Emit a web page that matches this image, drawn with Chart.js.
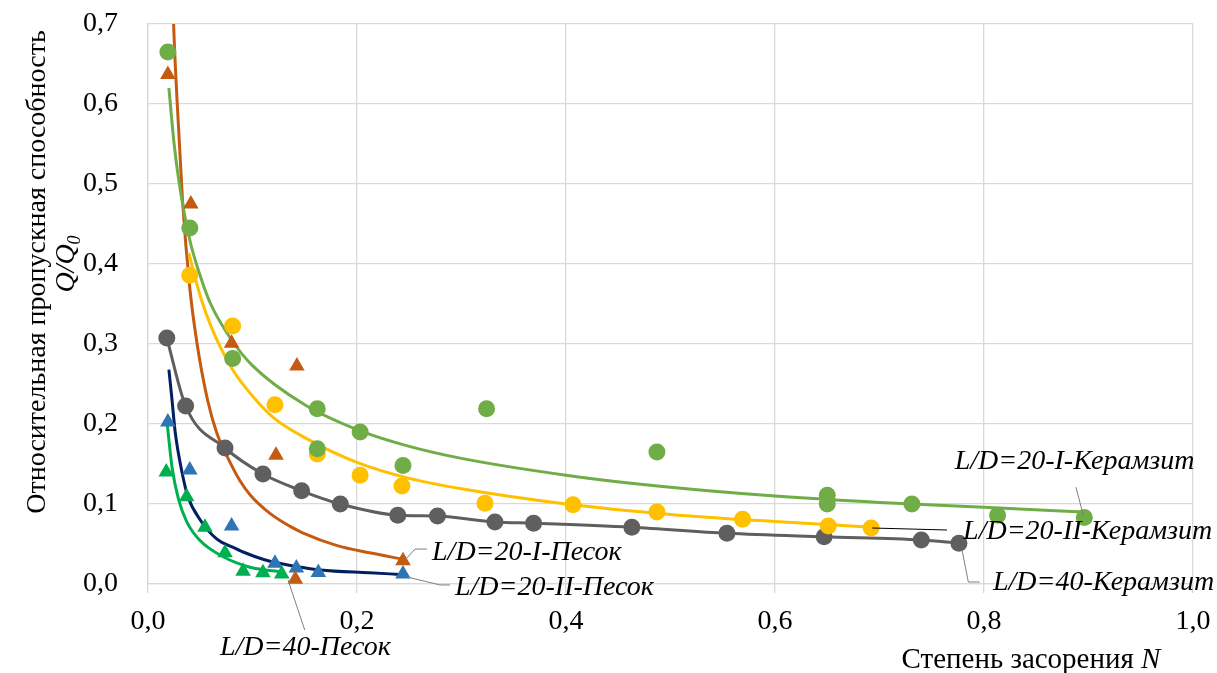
<!DOCTYPE html>
<html>
<head>
<meta charset="utf-8">
<script src="https://cdn.jsdelivr.net/npm/chart.js@4.4.1/dist/chart.umd.min.js"></script>
<style>
html,body{margin:0;padding:0;background:#fff;}
#wrap{width:1217px;height:673px;position:relative;}
</style>
</head>
<body>
<div id="wrap"><canvas id="c" width="1217" height="673"></canvas></div>
<script>
// ---------- DATA ----------
const xTickLabels = ['0,0','0,2','0,4','0,6','0,8','1,0'];
const yTickLabels = ['0,0','0,1','0,2','0,3','0,4','0,5','0,6','0,7'];

const seriesNames = ['L/D=20-I-Керамзит','L/D=20-II-Керамзит','L/D=40-Керамзит','L/D=20-I-Песок','L/D=20-II-Песок','L/D=40-Песок'];

// L/D=20-I-Керамзит (measured points)
const ker20I_x = [0.019,0.040,0.081,0.162,0.162,0.203,0.244,0.324,0.487,0.650,0.650,0.731,0.813,0.896];
const ker20I_y = [0.665,0.445,0.282,0.219,0.169,0.190,0.148,0.219,0.165,0.111,0.100,0.100,0.086,0.083];
// its trend curve
const ker20I_tx = [0.020,0.025,0.030,0.040,0.050,0.060,0.080,0.100,0.150,0.200,0.250,0.300,0.400,0.500,0.600,0.700,0.800,0.895];
const ker20I_ty = [0.620,0.550,0.500,0.430,0.385,0.350,0.305,0.273,0.224,0.193,0.172,0.157,0.136,0.121,0.110,0.102,0.096,0.090];

// L/D=20-II-Керамзит
const ker20II_x = [0.040,0.081,0.1215,0.162,0.203,0.243,0.3225,0.4067,0.487,0.569,0.651,0.692];
const ker20II_y = [0.386,0.3225,0.224,0.1625,0.136,0.1225,0.101,0.099,0.090,0.081,0.0725,0.070];
const ker20II_tx = [0.039,0.050,0.060,0.080,0.100,0.120,0.150,0.200,0.250,0.300,0.400,0.500,0.600,0.692];
const ker20II_ty = [0.414,0.360,0.323,0.270,0.235,0.208,0.183,0.152,0.132,0.119,0.100,0.087,0.078,0.071];

// L/D=40-Керамзит (smooth line through points)
const ker40_x = [0.018,0.036,0.0737,0.110,0.147,0.184,0.239,0.277,0.332,0.369,0.463,0.554,0.647,0.740,0.776];
const ker40_y = [0.3075,0.2225,0.170,0.1375,0.1165,0.100,0.086,0.085,0.0775,0.076,0.071,0.0635,0.059,0.055,0.051];

// L/D=20-I-Песок
const san20I_x = [0.019,0.041,0.080,0.1225,0.1425,0.141,0.244];
const san20I_y = [0.637,0.475,0.301,0.161,0.2725,0.006,0.029];
const san20I_tx = [0.020,0.0245,0.028,0.033,0.040,0.047,0.057,0.066,0.077,0.088,0.098,0.117,0.136,0.148,0.181,0.212,0.244];
const san20I_ty = [0.920,0.700,0.600,0.480,0.370,0.300,0.230,0.188,0.156,0.129,0.111,0.088,0.072,0.064,0.048,0.039,0.031];

// L/D=20-II-Песок
const san20II_x = [0.019,0.040,0.080,0.1215,0.142,0.163,0.244];
const san20II_y = [0.2025,0.1425,0.0725,0.026,0.020,0.0145,0.0125];
const san20II_tx = [0.020,0.023,0.026,0.0325,0.038,0.050,0.066,0.081,0.091,0.110,0.129,0.165,0.212,0.241];
const san20II_ty = [0.268,0.230,0.190,0.140,0.110,0.080,0.056,0.046,0.040,0.031,0.025,0.0175,0.014,0.012];

// L/D=40-Песок
const san40_x = [0.0175,0.037,0.0545,0.0737,0.091,0.110,0.128];
const san40_y = [0.140,0.109,0.071,0.039,0.016,0.014,0.0125];
const san40_tx = [0.018,0.023,0.029,0.037,0.050,0.072,0.0976,0.129];
const san40_ty = [0.205,0.146,0.107,0.078,0.054,0.034,0.021,0.015];

const xTitleMain = 'Степень засорения ';
const xTitleVar = 'N';
const yTitleLine1 = 'Относительная пропускная способность';
const yTitleVar = 'Q/Q';
const yTitleSub = '0';

// ---------- helpers ----------
const pts = (xs, ys) => xs.map((x, i) => ({x: x, y: ys[i]}));
const FONT = '"Liberation Serif", "Times New Roman", serif';

const COL = {
  green: '#70AD47', yellow: '#FFC000', gray: '#5F5F5F',
  orange: '#C55A11', blue: '#2E75B6', navy: '#002060', green2: '#00B050'
};

function markers(label, data, color, style) {
  return {type: 'scatter', label: label, data: data, showLine: false, order: 0,
    pointStyle: style, pointRadius: style === 'triangle' ? 9 : 8.5, pointHoverRadius: 8,
    pointBorderWidth: 0, backgroundColor: color, borderColor: color, borderWidth: 0};
}
function curve(label, data, color) {
  return {type: 'line', label: label, data: data, showLine: true, order: 1,
    pointRadius: 0, pointHoverRadius: 0, borderColor: color, backgroundColor: color,
    borderWidth: 3, fill: false, cubicInterpolationMode: 'monotone'};
}

// label placement (data coordinates) and leader lines
const labelLayout = [
  {text: seriesNames[0], at: [0.772, 0.1525], leader: [[0.888,0.121],[0.895,0.086]], color: '#7F7F7F'},
  {text: seriesNames[1], at: [0.780, 0.065], leader: [[0.693,0.070],[0.7646,0.0675]], color: '#000000'},
  {text: seriesNames[2], at: [0.8086, 0.0012], leader: [[0.779,0.0425],[0.785,0.0025],[0.796,0.0025]], color: '#7F7F7F'},
  {text: seriesNames[3], at: [0.2718, 0.03875], leader: [[0.246,0.030],[0.2555,0.0437],[0.267,0.0437]], color: '#7F7F7F'},
  {text: seriesNames[4], at: [0.2938, -0.005], leader: [[0.248,0.00875],[0.2794,-0.0012],[0.289,-0.0012]], color: '#7F7F7F'},
  {text: seriesNames[5], at: [0.0689, -0.080], leader: [[0.134,0.005],[0.150,-0.0575]], color: '#7F7F7F'}
];

const annotPlugin = {
  id: 'annot',
  afterDraw(chart) {
    const ctx = chart.ctx, xs = chart.scales.x, ys = chart.scales.y;
    ctx.save();
    // leader lines
    labelLayout.forEach(l => {
      ctx.beginPath();
      ctx.strokeStyle = l.color;
      ctx.lineWidth = 1;
      l.leader.forEach((p, i) => {
        const px = xs.getPixelForValue(p[0]), py = ys.getPixelForValue(p[1]);
        if (i === 0) ctx.moveTo(px, py); else ctx.lineTo(px, py);
      });
      ctx.stroke();
    });
    // label texts
    ctx.fillStyle = '#000';
    ctx.textBaseline = 'middle';
    ctx.textAlign = 'left';
    ctx.font = 'italic 28px ' + FONT;
    labelLayout.forEach(l => {
      ctx.fillText(l.text, xs.getPixelForValue(l.at[0]), ys.getPixelForValue(l.at[1]));
    });
    // x axis title
    const fR = '29px ' + FONT, fI = 'italic 29px ' + FONT;
    ctx.font = fR; const w1 = ctx.measureText(xTitleMain).width;
    ctx.font = fI; const w2 = ctx.measureText(xTitleVar).width;
    const x0 = 1031 - (w1 + w2) / 2;
    ctx.font = fR; ctx.fillText(xTitleMain, x0, 660);
    ctx.font = fI; ctx.fillText(xTitleVar, x0 + w1, 660);
    // y axis title (rotated)
    const gR = '28px ' + FONT, gI = 'italic 28px ' + FONT;
    ctx.translate(38, 272);
    ctx.rotate(-Math.PI / 2);
    ctx.textAlign = 'center';
    ctx.font = gR; ctx.fillText(yTitleLine1, 0, 0);
    ctx.font = gI; const wq = ctx.measureText(yTitleVar).width;
    ctx.font = 'italic 18px ' + FONT; const ws = ctx.measureText(yTitleSub).width;
    const qx = 8 - (wq + ws) / 2;
    ctx.textAlign = 'left';
    ctx.font = gI; ctx.fillText(yTitleVar, qx, 29);
    ctx.font = 'italic 18px ' + FONT; ctx.fillText(yTitleSub, qx + wq, 37);
    ctx.restore();
  }
};

new Chart(document.getElementById('c'), {
  data: {
    datasets: [
      markers(seriesNames[0], pts(ker20I_x, ker20I_y), COL.green, 'circle'),
      markers(seriesNames[1], pts(ker20II_x, ker20II_y), COL.yellow, 'circle'),
      Object.assign(markers(seriesNames[2], pts(ker40_x, ker40_y), COL.gray, 'circle'),
        {showLine: true, borderColor: COL.gray, borderWidth: 3, pointBorderWidth: 0, cubicInterpolationMode: 'monotone'}),
      markers(seriesNames[3], pts(san20I_x, san20I_y), COL.orange, 'triangle'),
      markers(seriesNames[4], pts(san20II_x, san20II_y), COL.blue, 'triangle'),
      markers(seriesNames[5], pts(san40_x, san40_y), COL.green2, 'triangle'),
      curve(seriesNames[0] + ' тренд', pts(ker20I_tx, ker20I_ty), COL.green),
      curve(seriesNames[1] + ' тренд', pts(ker20II_tx, ker20II_ty), COL.yellow),
      curve(seriesNames[3] + ' тренд', pts(san20I_tx, san20I_ty), COL.orange),
      curve(seriesNames[4] + ' тренд', pts(san20II_tx, san20II_ty), COL.navy),
      curve(seriesNames[5] + ' тренд', pts(san40_tx, san40_ty), COL.green2)
    ]
  },
  options: {
    responsive: false,
    animation: false,
    events: [],
    layout: {padding: {top: 24, right: 24, left: 0, bottom: 0}},
    plugins: {legend: {display: false}, tooltip: {enabled: false}},
    scales: {
      x: {
        type: 'linear', min: 0, max: 1,
        afterFit: s => { s.height = 89; s.paddingLeft = 0; s.paddingRight = 0; },
        grid: {color: '#D9D9D9', lineWidth: 1.3, drawTicks: true, tickLength: 9, tickColor: '#D9D9D9'},
        border: {color: '#D9D9D9', width: 1.3},
        ticks: {stepSize: 0.2, padding: 12, color: '#000', font: {family: FONT, size: 28},
          maxRotation: 0, callback: (v, i) => xTickLabels[i]}
      },
      y: {
        type: 'linear', min: 0, max: 0.7,
        afterFit: s => { s.width = 148; s.paddingTop = 0; s.paddingBottom = 0; },
        grid: {color: '#D9D9D9', lineWidth: 1.3, drawTicks: false},
        border: {color: '#D9D9D9', width: 1.3},
        ticks: {stepSize: 0.1, padding: 30, color: '#000', font: {family: FONT, size: 28},
          callback: (v, i) => yTickLabels[i]}
      }
    }
  },
  plugins: [annotPlugin]
});
</script>
</body>
</html>
